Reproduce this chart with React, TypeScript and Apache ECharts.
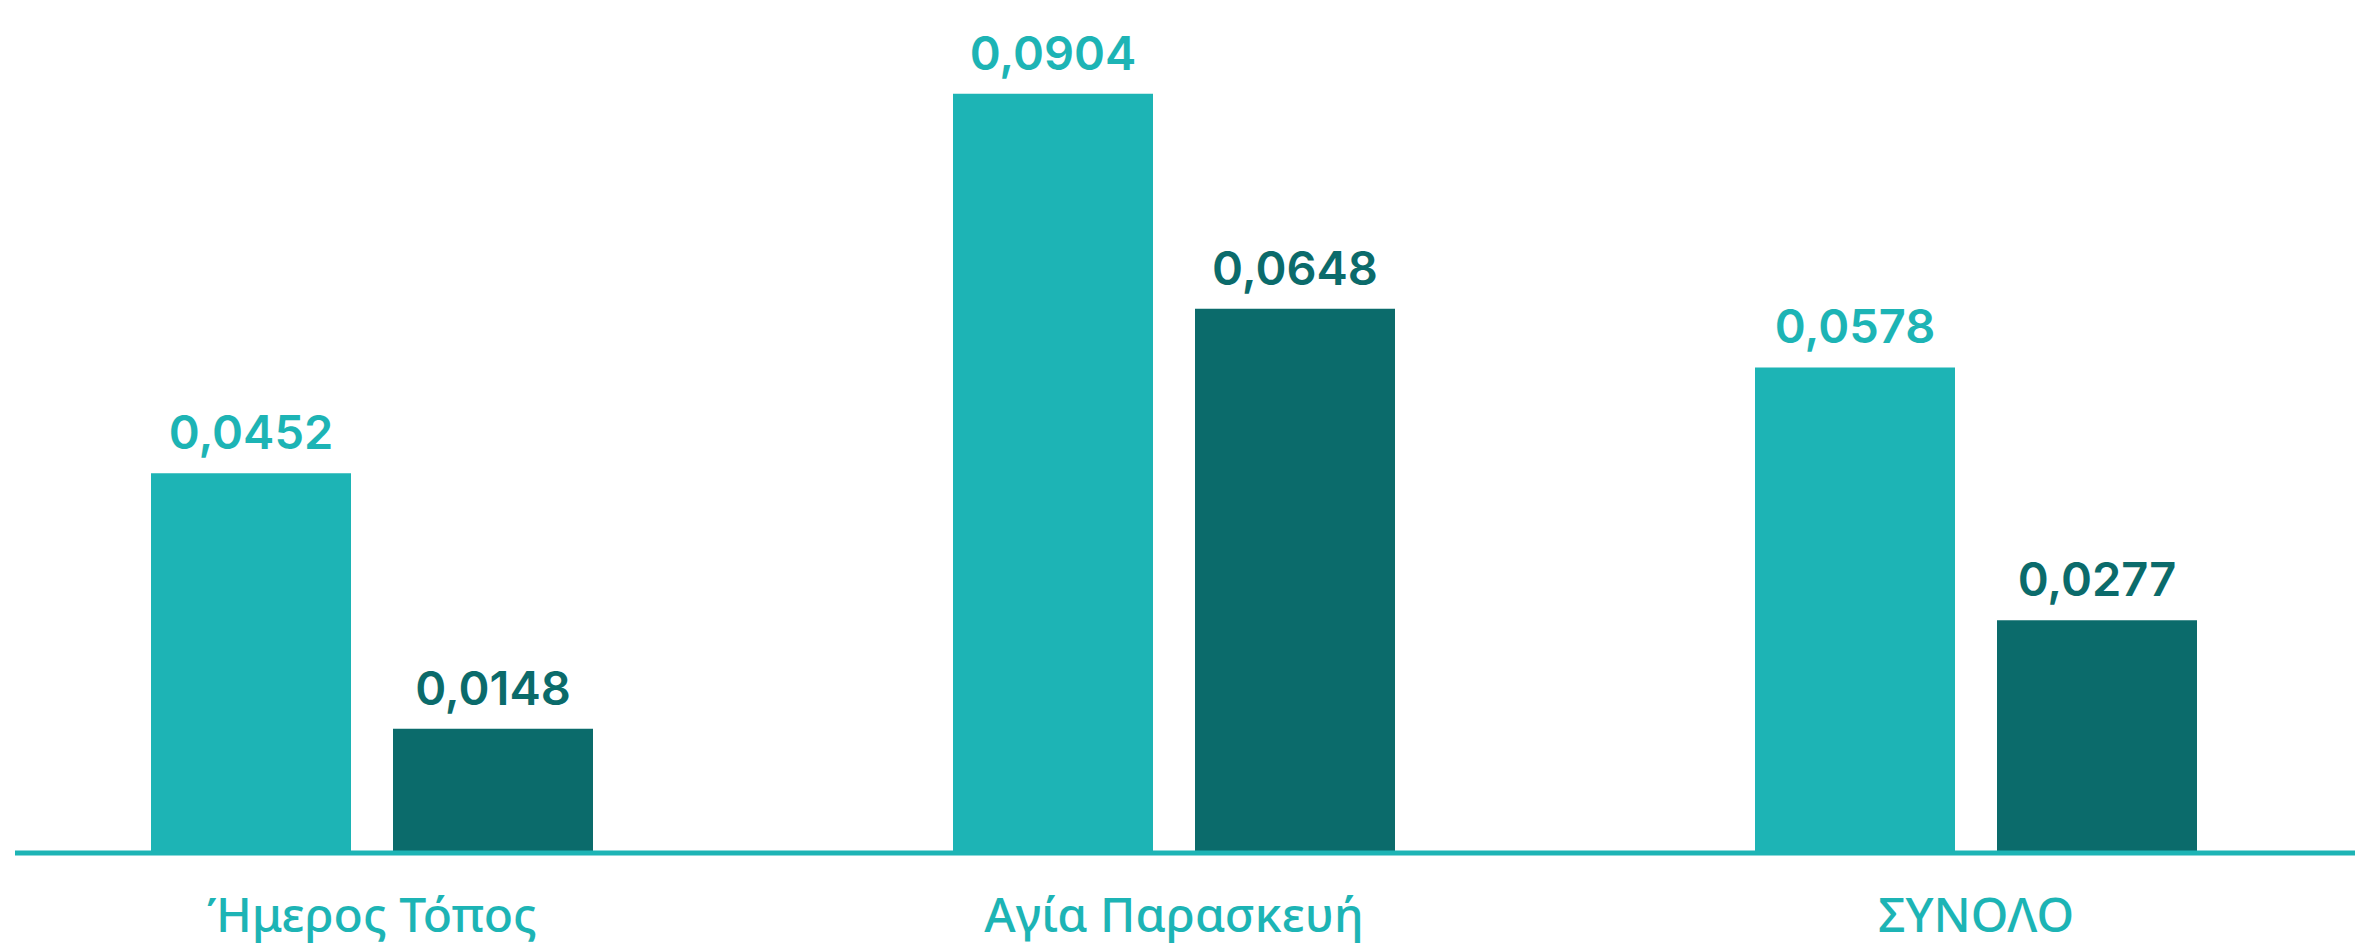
import React, { useEffect, useRef } from "react";
import * as echarts from "echarts";

const categories = ["Ήμερος Τόπος", "Αγία Παρασκευή", "ΣΥΝΟΛΟ"];
const seriesA = [0.0452, 0.0904, 0.0578];
const seriesB = [0.0148, 0.0648, 0.0277];

const TEAL = "#1db4b5";
const DARK = "#0b6b6b";

const fmt = (v: number) => v.toFixed(4).replace(".", ",");

export default function App() {
  const ref = useRef<HTMLDivElement>(null);
  useEffect(() => {
    document.body.style.margin = "0";
    document.body.style.overflow = "hidden";
    const chart = echarts.init(ref.current!, null, { renderer: "svg" });
    const labelBase = {
      show: true,
      position: "top" as const,
      distance: 18,
      fontFamily: "Inter, 'Noto Sans', sans-serif",
      fontSize: 47,
      fontWeight: 600,
      formatter: (p: any) => fmt(p.value),
    };
    chart.setOption({
      animation: false,
      grid: { left: 0, right: 0, top: 13, height: 840, containLabel: false },
      xAxis: {
        type: "category",
        data: categories,
        axisLine: { show: false },
        axisTick: { show: false },
        axisLabel: {
          color: TEAL,
          fontFamily: "'Noto Sans', sans-serif",
          fontSize: 48,
          fontWeight: 500,
          margin: 36,
        },
      },
      yAxis: {
        type: "value",
        min: 0,
        max: 0.1,
        show: false,
        splitLine: { show: false },
      },
      graphic: [
        {
          type: "line",
          z: 10,
          shape: { x1: 44, y1: 853, x2: 2406, y2: 853 },
          style: { stroke: TEAL, lineWidth: 5 },
        },
      ],
      series: [
        {
          type: "bar",
          data: seriesA,
          barWidth: 200,
          barGap: "21%",
          itemStyle: { color: TEAL },
          label: { ...labelBase, color: TEAL },
        },
        {
          type: "bar",
          data: seriesB,
          barWidth: 200,
          itemStyle: { color: DARK },
          label: { ...labelBase, color: DARK },
        },
      ],
    });
    return () => chart.dispose();
  }, []);
  return (
    <div
      ref={ref}
      style={{ position: "absolute", left: -29, top: 0, width: 2406, height: 943 }}
    />
  );
}
